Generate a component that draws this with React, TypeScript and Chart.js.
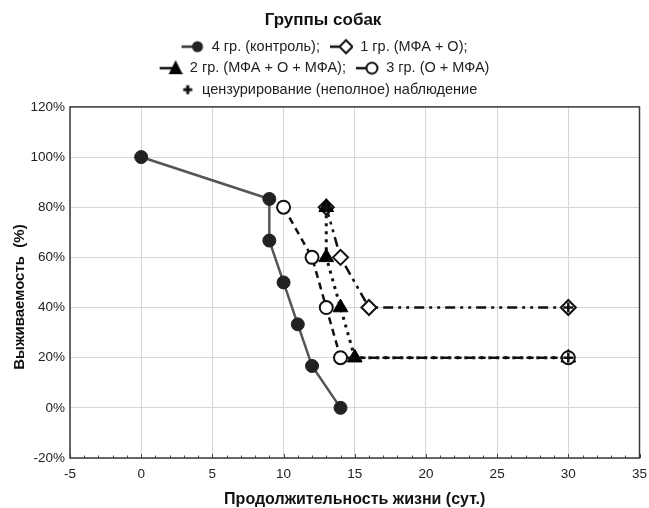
import React, { useEffect, useRef } from "react";
import { Chart, registerables } from "chart.js";

Chart.register(...registerables);

// ---- data ----
const legendTitle = "Группы собак";
const xTitle = "Продолжительность жизни (сут.)";
const yTitle = "Выживаемость  (%)";

const seriesLabels = [
  "4 гр. (контроль);",
  "1 гр. (МФА + О);",
  "2 гр. (МФА + О + МФА);",
  "3 гр. (О + МФА)",
  "цензурирование (неполное) наблюдение",
];

const controlDays = [0, 9, 9, 10, 11, 12, 14];
const controlSurv = [100, 83.3, 66.7, 50, 33.3, 16.7, 0];

const g1Days = [13, 14, 16, 30];
const g1Surv = [80, 60, 40, 40];

const g2Days = [13, 13, 14, 15, 30];
const g2Surv = [80, 60, 40, 20, 20];

const g3Days = [10, 12, 13, 14, 30];
const g3Surv = [80, 60, 40, 20, 20];

const censorDays = [13, 30, 30];
const censorSurv = [80, 40, 20];

const xMin = -5, xMax = 35, xStep = 5;
const yMin = -20, yMax = 120, yStep = 20;

const FONT = "'Liberation Sans', Arial, Helvetica, sans-serif";

const toPts = (xs: number[], ys: number[]) => xs.map((x, i) => ({ x, y: ys[i] }));

const ICON_W = 26;

function makeIcon(kind: string): HTMLCanvasElement {
  const c = document.createElement("canvas");
  c.width = ICON_W;
  c.height = 18;
  const ctx = c.getContext("2d")!;
  const cy = 9;
  const mx = 19;
  if (kind !== "cross") {
    ctx.beginPath();
    ctx.moveTo(3, cy);
    ctx.lineTo(mx, cy);
    ctx.lineWidth = 2.5;
    ctx.strokeStyle = kind === "circleFilled" ? "#333" : "#111";
    ctx.stroke();
  }
  ctx.lineWidth = 2;
  ctx.strokeStyle = "#111";
  ctx.fillStyle = "#fff";
  if (kind === "circleFilled") {
    ctx.beginPath();
    ctx.arc(mx, cy, 5.5, 0, Math.PI * 2);
    ctx.fillStyle = "#222";
    ctx.fill();
  } else if (kind === "diamond") {
    ctx.beginPath();
    ctx.moveTo(mx, cy - 6.5);
    ctx.lineTo(mx + 6.5, cy);
    ctx.lineTo(mx, cy + 6.5);
    ctx.lineTo(mx - 6.5, cy);
    ctx.closePath();
    ctx.fill();
    ctx.stroke();
  } else if (kind === "triangle") {
    ctx.beginPath();
    ctx.moveTo(mx, cy - 8);
    ctx.lineTo(mx + 7, cy + 6);
    ctx.lineTo(mx - 7, cy + 6);
    ctx.closePath();
    ctx.fillStyle = "#000";
    ctx.fill();
  } else if (kind === "circleOpen") {
    ctx.beginPath();
    ctx.arc(mx, cy, 5.5, 0, Math.PI * 2);
    ctx.fill();
    ctx.stroke();
  } else if (kind === "cross") {
    ctx.beginPath();
    ctx.moveTo(mx - 4.5, cy);
    ctx.lineTo(mx + 4.5, cy);
    ctx.moveTo(mx, cy - 4.5);
    ctx.lineTo(mx, cy + 4.5);
    ctx.lineWidth = 3;
    ctx.strokeStyle = "#111";
    ctx.stroke();
  }
  return c;
}

const LEGEND_WRAP = 380;

const layoutHelper = {
  id: "layoutHelper",
  beforeLayout(chart: any) {
    const legend = chart.legend;
    if (legend && !legend.__patched) {
      const orig = legend.fit;
      legend.fit = function () {
        const full = this.maxWidth;
        this.maxWidth = LEGEND_WRAP;
        orig.call(this);
        this.maxWidth = full;
        this.width = full;
      };
      legend.__patched = true;
    }
  },
  beforeDatasetsDraw(chart: any) {
    const { ctx, chartArea } = chart;
    const xs = chart.scales.x;
    ctx.save();
    // minor ticks on bottom axis
    ctx.strokeStyle = "#444";
    ctx.lineWidth = 1;
    ctx.beginPath();
    for (let v = xMin; v <= xMax; v += 1) {
      const px = Math.round(xs.getPixelForValue(v)) + 0.5;
      const len = v % xStep === 0 ? 4 : 2.5;
      ctx.moveTo(px, chartArea.bottom);
      ctx.lineTo(px, chartArea.bottom - len);
    }
    ctx.stroke();
    // frame
    ctx.strokeStyle = "#3a3a3a";
    ctx.lineWidth = 1.5;
    ctx.strokeRect(chartArea.left, chartArea.top, chartArea.right - chartArea.left, chartArea.bottom - chartArea.top);
    ctx.restore();
  },
};

export default function App() {
  const ref = useRef<HTMLCanvasElement | null>(null);

  useEffect(() => {
    if (!ref.current) return;
    const icons = [
      makeIcon("circleFilled"),
      makeIcon("diamond"),
      makeIcon("triangle"),
      makeIcon("circleOpen"),
      makeIcon("cross"),
    ];

    const chart = new Chart(ref.current, {
      type: "scatter",
      data: {
        datasets: [
          {
            label: seriesLabels[0],
            data: toPts(controlDays, controlSurv),
            showLine: true,
            borderColor: "#555",
            borderWidth: 2.5,
            pointStyle: "circle",
            pointRadius: 6.5,
            pointBackgroundColor: "#222",
            pointBorderColor: "#222",
            pointBorderWidth: 1,
            order: 4,
          },
          {
            label: seriesLabels[1],
            data: toPts(g1Days, g1Surv),
            showLine: true,
            borderColor: "#111",
            borderWidth: 2.5,
            borderDash: [10, 5, 3, 5, 3, 5],
            pointStyle: "rectRot",
            pointRadius: 7.5,
            pointBackgroundColor: "#fff",
            pointBorderColor: "#111",
            pointBorderWidth: 2,
            order: 3,
          },
          {
            label: seriesLabels[2],
            data: toPts(g2Days, g2Surv),
            showLine: true,
            borderColor: "#111",
            borderWidth: 3,
            borderDash: [3, 5],
            pointStyle: "triangle",
            pointRadius: 8.5,
            pointBackgroundColor: "#000",
            pointBorderColor: "#000",
            pointBorderWidth: 1,
            order: 2,
          },
          {
            label: seriesLabels[3],
            data: toPts(g3Days, g3Surv),
            showLine: true,
            borderColor: "#111",
            borderWidth: 2.5,
            borderDash: [7, 5],
            pointStyle: "circle",
            pointRadius: 6.5,
            pointBackgroundColor: "#fff",
            pointBorderColor: "#111",
            pointBorderWidth: 2,
            order: 1,
          },
          {
            label: seriesLabels[4],
            data: toPts(censorDays, censorSurv),
            showLine: false,
            pointStyle: "cross",
            pointRadius: 5,
            pointBorderColor: "#111",
            pointBackgroundColor: "#111",
            pointBorderWidth: 2.5,
            order: 0,
          },
        ],
      },
      options: {
        responsive: false,
        animation: false,
        devicePixelRatio: 1,
        layout: { padding: { left: 2, right: 5, top: 0, bottom: 0 } },
        plugins: {
          tooltip: { enabled: false },
          title: {
            display: true,
            text: legendTitle,
            color: "#111",
            font: { family: FONT, size: 17, weight: "bold" },
            padding: { top: 10, bottom: 2 },
          },
          legend: {
            display: true,
            position: "top",
            labels: {
              usePointStyle: true,
              pointStyleWidth: ICON_W,
              padding: 7,
              color: "#222",
              font: { family: FONT, size: 14.5 },
              sort: (a: any, b: any) => a.datasetIndex - b.datasetIndex,
              generateLabels: (ch: any) => {
                const items = (Chart as any).defaults.plugins.legend.labels.generateLabels(ch);
                items.forEach((it: any) => {
                  it.pointStyle = icons[it.datasetIndex];
                });
                return items;
              },
            },
          },
        },
        scales: {
          x: {
            type: "linear",
            min: xMin,
            max: xMax,
            afterFit: (s: any) => {
              s.height = 50;
              s.paddingRight = 0;
              s.paddingLeft = 0;
            },
            ticks: {
              stepSize: xStep,
              padding: 8,
              color: "#222",
              font: { family: FONT, size: 13.5 },
            },
            grid: { color: "#d6d6d6", lineWidth: 1, drawTicks: false },
            border: { display: false },
            title: {
              display: true,
              text: xTitle,
              color: "#111",
              font: { family: FONT, size: 16, weight: "bold", lineHeight: 1 },
              padding: { top: 0, bottom: 0 },
            },
          },
          y: {
            type: "linear",
            min: yMin,
            max: yMax,
            afterFit: (s: any) => {
              s.width = 68;
            },
            ticks: {
              stepSize: yStep,
              padding: 5,
              color: "#222",
              font: { family: FONT, size: 13.5 },
              callback: (v: any) => v + "%",
            },
            grid: { color: "#d6d6d6", lineWidth: 1, drawTicks: false },
            border: { display: false },
            title: {
              display: true,
              text: yTitle + "       ",
              color: "#111",
              font: { family: FONT, size: 15, weight: "bold" },
              padding: { top: 9, bottom: 0 },
            },
          },
        },
      },
      plugins: [layoutHelper],
    } as any);

    return () => chart.destroy();
  }, []);

  return (
    <div style={{ position: "absolute", left: 0, top: 0, width: 649, height: 508 }}>
      <canvas ref={ref} width={649} height={508} />
    </div>
  );
}
